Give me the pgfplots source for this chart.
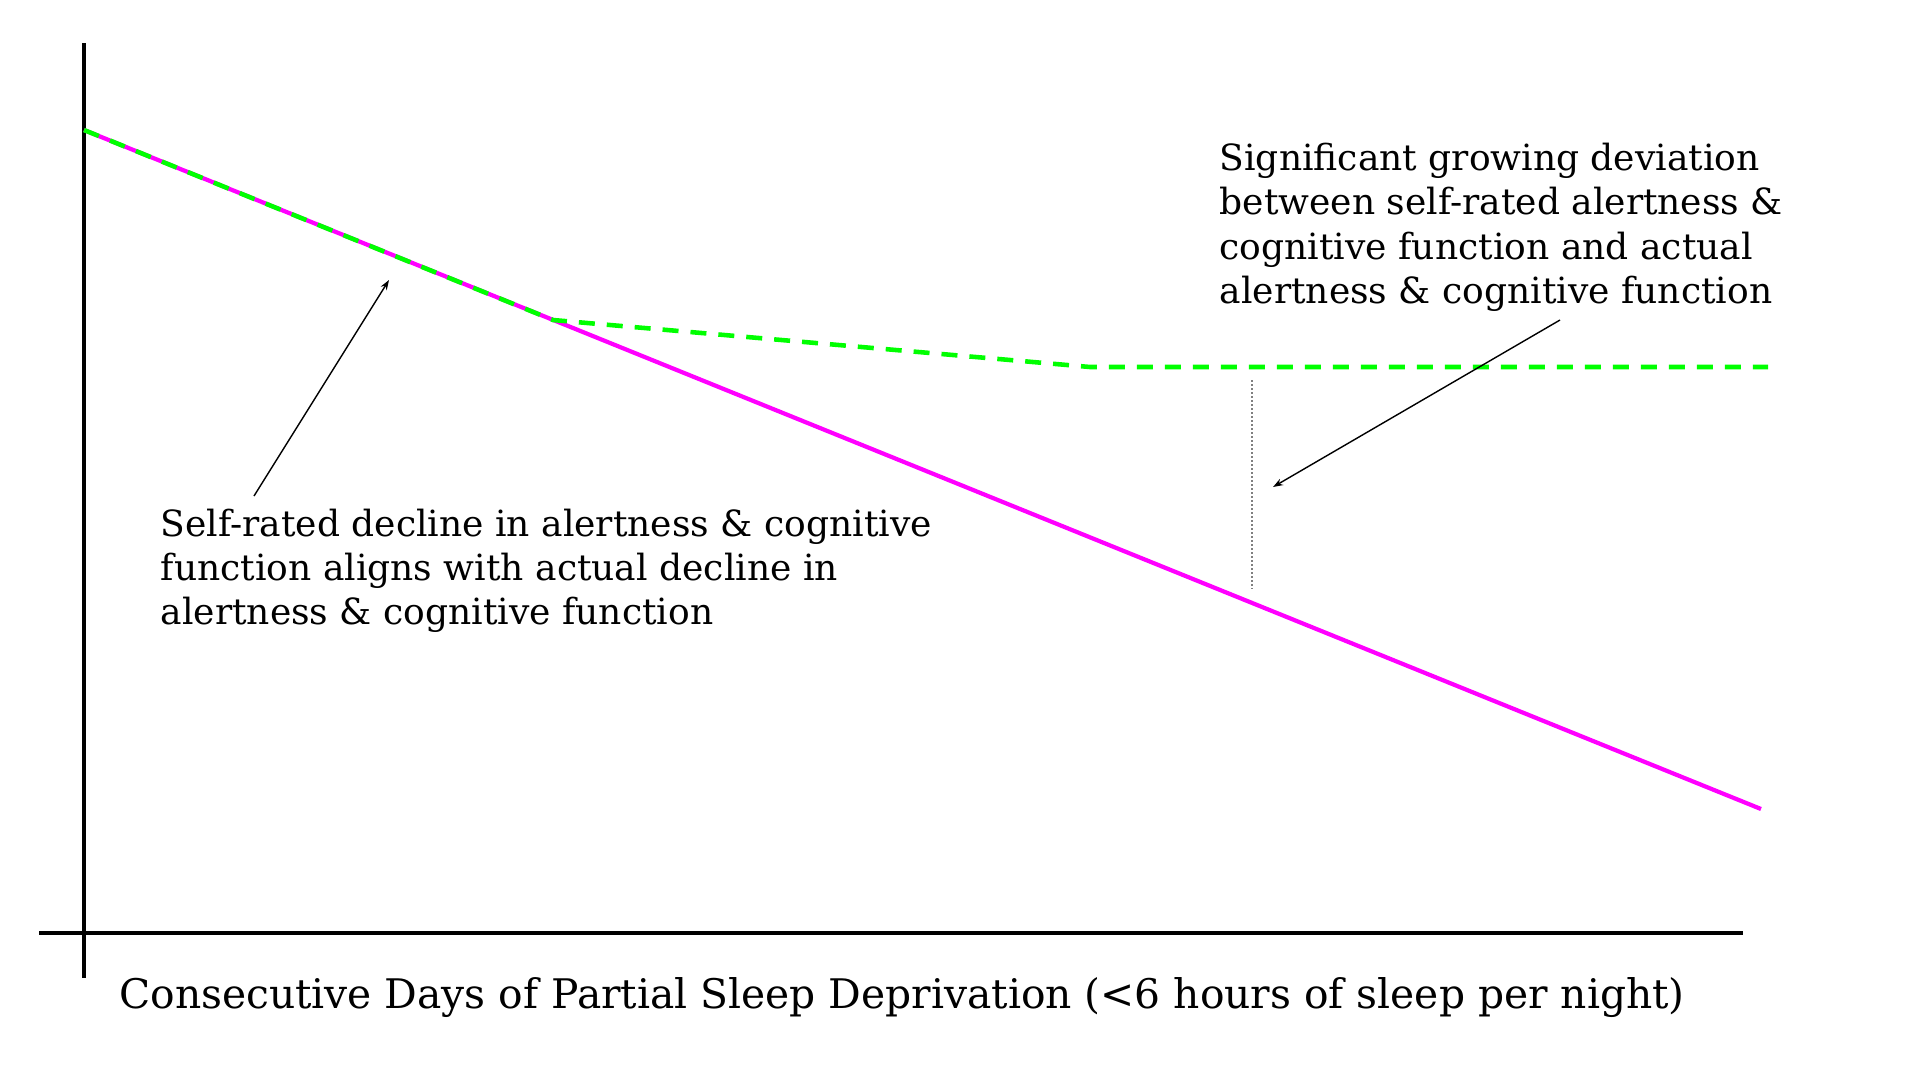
\documentclass[border=0pt]{standalone}
\usepackage{fontspec}
\setmainfont{DejaVu Serif}
\usepackage{pgfplots}
\pgfplotsset{compat=1.18}
\usetikzlibrary{arrows.meta}
\definecolor{actual}{RGB}{255,0,255}
\definecolor{selfr}{RGB}{0,255,0}
\tikzset{annot/.style={anchor=base west, inner sep=0pt, font=\fontsize{10.26pt}{12pt}\selectfont}}
\begin{document}
\begin{tikzpicture}
\begin{axis}[
  scale only axis, width=19.2cm, height=10.8cm,
  xmin=-84, xmax=1836, ymin=-147, ymax=933,
  hide axis, clip=false,
]
\path (rel axis cs:0,0) rectangle (rel axis cs:1,1);
% axis lines
\draw[line width=1.1pt, black] (axis cs:-45,0) -- (axis cs:1659,0);
\draw[line width=1.1pt, black] (axis cs:0,890) -- (axis cs:0,-45);
% actual alertness & cognitive function
\addplot[actual, line width=1.2pt] coordinates {(0,803) (1677,124)};
% self-rated alertness & cognitive function
\addplot[selfr, line width=1.3pt, dash pattern=on 0.16cm off 0.12cm] coordinates {(0,803) (469,613) (1006,566) (1684,566)};
% deviation marker
\draw[gray, line width=0.3pt, dash pattern=on 0.02cm off 0.02cm] (axis cs:1168,553) -- (axis cs:1168,344);
% arrows
\draw[line width=0.4pt, -{Stealth[length=0.1cm, width=0.07cm]}] (axis cs:170,437) -- (axis cs:305,653);
\draw[line width=0.4pt, -{Stealth[length=0.1cm, width=0.07cm]}] (axis cs:1476,613) -- (axis cs:1189,446);
% annotations
\node[annot] at (axis cs:1135,763) {Significant growing deviation};
\node[annot] at (axis cs:1135,718.5) {between self-rated alertness \&};
\node[annot] at (axis cs:1135,674) {cognitive function and actual};
\node[annot] at (axis cs:1135,629.5) {alertness \& cognitive function};
\node[annot] at (axis cs:76,397) {Self-rated decline in alertness \& cognitive};
\node[annot] at (axis cs:76,353) {function aligns with actual decline in};
\node[annot] at (axis cs:76,309) {alertness \& cognitive function};
\node[anchor=base, inner sep=0pt, font=\fontsize{11.6pt}{14pt}\selectfont] at (axis cs:818,-75) {Consecutive Days of Partial Sleep Deprivation (<6 hours of sleep per night)};
\end{axis}
\end{tikzpicture}
\end{document}
